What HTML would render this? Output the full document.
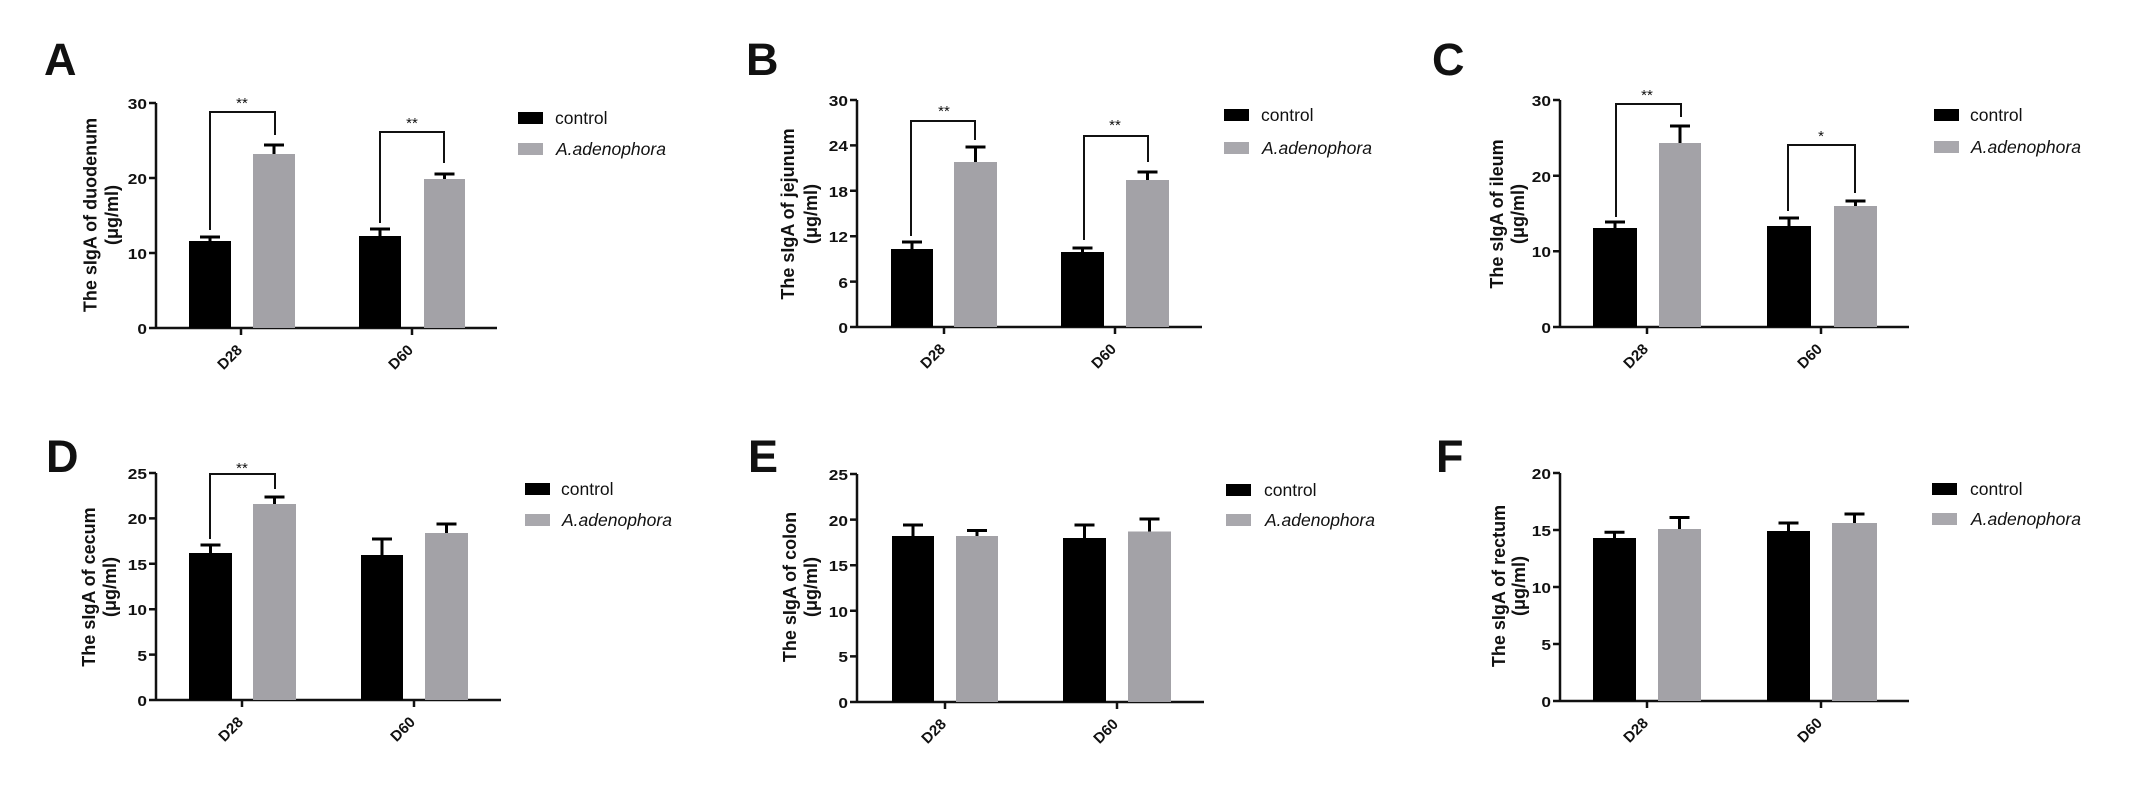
<!DOCTYPE html>
<html><head><meta charset="utf-8"><style>
html,body{margin:0;padding:0;background:#fff;}
svg{display:block;}
text{font-family:"Liberation Sans",Arial,sans-serif;fill:#111;}
.t{font-size:15px;font-weight:bold;}
.x{font-size:15px;font-weight:bold;}
.l{font-size:45px;font-weight:bold;}
.y{font-size:18px;font-weight:bold;}
.g{font-size:17.5px;}
.s{font-size:15px;}
.ax{stroke:#111;stroke-width:2.5;fill:none;}
.br{stroke:#111;stroke-width:2;fill:none;}
.eb{stroke:#000;stroke-width:3;fill:none;}
</style></head><body>
<svg width="2129" height="787" viewBox="0 0 2129 787" xmlns="http://www.w3.org/2000/svg">
<rect width="2129" height="787" fill="#fff"/>

<!-- ===== Panel A ===== -->
<text class="l" x="44" y="75">A</text>
<path class="ax" d="M156,103 V328 H497 M149,103 H156 M149,178 H156 M149,253 H156 M149,328 H156 M241,328 V335 M412,328 V335"/>
<text class="t" text-anchor="end" transform="translate(147,109) scale(1.15,1)">30</text>
<text class="t" text-anchor="end" transform="translate(147,184) scale(1.15,1)">20</text>
<text class="t" text-anchor="end" transform="translate(147,259) scale(1.15,1)">10</text>
<text class="t" text-anchor="end" transform="translate(147,334) scale(1.15,1)">0</text>
<rect x="189" y="241" width="42" height="87" fill="#000"/>
<rect x="253" y="154" width="42" height="174" fill="#a3a2a7"/>
<rect x="359" y="236" width="42" height="92" fill="#000"/>
<rect x="424" y="179" width="41" height="149" fill="#a3a2a7"/>
<path class="eb" d="M210,241 V237 M200,237 H220 M274,154 V145 M264,145 H284 M380,236 V229 M370,229 H390 M444.5,179 V174 M434.5,174 H454.5"/>
<path class="br" d="M210,230 V112 H275 V135 M380,223 V132 H444 V163"/>
<text class="s" text-anchor="middle" x="242" y="108">**</text>
<text class="s" text-anchor="middle" x="412" y="128">**</text>
<text class="y" text-anchor="middle" transform="translate(96.5,215) rotate(-90)">The sIgA of duodenum</text>
<text class="y" text-anchor="middle" transform="translate(118,215) rotate(-90)">(μg/ml)</text>
<text class="x" text-anchor="end" transform="translate(243,351) rotate(-45)">D28</text>
<text class="x" text-anchor="end" transform="translate(414,351) rotate(-45)">D60</text>
<rect x="518" y="112" width="25" height="12" fill="#000"/>
<rect x="518" y="143" width="25" height="12" fill="#a9a8ad"/>
<text class="g" x="555" y="124">control</text>
<text class="g" font-style="italic" x="556" y="155">A.adenophora</text>

<!-- ===== Panel B ===== -->
<text class="l" x="746" y="75">B</text>
<path class="ax" d="M857,100 V327 H1202 M850,100 H857 M850,145.4 H857 M850,190.8 H857 M850,236.2 H857 M850,281.6 H857 M850,327 H857 M944,327 V334 M1115,327 V334"/>
<text class="t" text-anchor="end" transform="translate(848,106) scale(1.15,1)">30</text>
<text class="t" text-anchor="end" transform="translate(848,151) scale(1.15,1)">24</text>
<text class="t" text-anchor="end" transform="translate(848,197) scale(1.15,1)">18</text>
<text class="t" text-anchor="end" transform="translate(848,242) scale(1.15,1)">12</text>
<text class="t" text-anchor="end" transform="translate(848,288) scale(1.15,1)">6</text>
<text class="t" text-anchor="end" transform="translate(848,333) scale(1.15,1)">0</text>
<rect x="891" y="249" width="42" height="78" fill="#000"/>
<rect x="954" y="162" width="43" height="165" fill="#a3a2a7"/>
<rect x="1061" y="252" width="43" height="75" fill="#000"/>
<rect x="1126" y="180" width="43" height="147" fill="#a3a2a7"/>
<path class="eb" d="M912,249 V242 M902,242 H922 M975.5,162 V147 M965.5,147 H985.5 M1082.5,252 V248 M1072.5,248 H1092.5 M1147.5,180 V172 M1137.5,172 H1157.5"/>
<path class="br" d="M911,236 V121 H975 V140 M1084,240 V136 H1148 V162"/>
<text class="s" text-anchor="middle" x="944" y="116">**</text>
<text class="s" text-anchor="middle" x="1115" y="130">**</text>
<text class="y" text-anchor="middle" transform="translate(794,214) rotate(-90)">The sIgA of jejunum</text>
<text class="y" text-anchor="middle" transform="translate(817,214) rotate(-90)">(μg/ml)</text>
<text class="x" text-anchor="end" transform="translate(946,350) rotate(-45)">D28</text>
<text class="x" text-anchor="end" transform="translate(1117,350) rotate(-45)">D60</text>
<rect x="1224" y="109" width="25" height="12" fill="#000"/>
<rect x="1224" y="142" width="25" height="12" fill="#a9a8ad"/>
<text class="g" x="1261" y="121">control</text>
<text class="g" font-style="italic" x="1262" y="154">A.adenophora</text>

<!-- ===== Panel C ===== -->
<text class="l" x="1432" y="75">C</text>
<path class="ax" d="M1560,100 V327 H1909 M1553,100 H1560 M1553,175.7 H1560 M1553,251.3 H1560 M1553,327 H1560 M1647,327 V334 M1821,327 V334"/>
<text class="t" text-anchor="end" transform="translate(1551,106) scale(1.15,1)">30</text>
<text class="t" text-anchor="end" transform="translate(1551,182) scale(1.15,1)">20</text>
<text class="t" text-anchor="end" transform="translate(1551,257) scale(1.15,1)">10</text>
<text class="t" text-anchor="end" transform="translate(1551,333) scale(1.15,1)">0</text>
<rect x="1593" y="228" width="44" height="99" fill="#000"/>
<rect x="1659" y="143" width="42" height="184" fill="#a3a2a7"/>
<rect x="1767" y="226" width="44" height="101" fill="#000"/>
<rect x="1834" y="206" width="43" height="121" fill="#a3a2a7"/>
<path class="eb" d="M1615,228 V222 M1605,222 H1625 M1680,143 V126 M1670,126 H1690 M1789,226 V218 M1779,218 H1799 M1855.5,206 V201 M1845.5,201 H1865.5"/>
<path class="br" d="M1616,217 V104 H1681 V117 M1788,211 V145 H1855 V193"/>
<text class="s" text-anchor="middle" x="1647" y="100">**</text>
<text class="s" text-anchor="middle" x="1821" y="141">*</text>
<text class="y" text-anchor="middle" transform="translate(1503,214) rotate(-90)">The sIgA of ileum</text>
<text class="y" text-anchor="middle" transform="translate(1524,214) rotate(-90)">(μg/ml)</text>
<text class="x" text-anchor="end" transform="translate(1649,350) rotate(-45)">D28</text>
<text class="x" text-anchor="end" transform="translate(1823,350) rotate(-45)">D60</text>
<rect x="1934" y="109" width="25" height="12" fill="#000"/>
<rect x="1934" y="141" width="25" height="12" fill="#a9a8ad"/>
<text class="g" x="1970" y="121">control</text>
<text class="g" font-style="italic" x="1971" y="153">A.adenophora</text>

<!-- ===== Panel D ===== -->
<text class="l" x="46" y="472">D</text>
<path class="ax" d="M156,473 V700 H501 M149,473 H156 M149,518.4 H156 M149,563.8 H156 M149,609.2 H156 M149,654.6 H156 M149,700 H156 M242,700 V707 M414,700 V707"/>
<text class="t" text-anchor="end" transform="translate(147,479) scale(1.15,1)">25</text>
<text class="t" text-anchor="end" transform="translate(147,524) scale(1.15,1)">20</text>
<text class="t" text-anchor="end" transform="translate(147,570) scale(1.15,1)">15</text>
<text class="t" text-anchor="end" transform="translate(147,615) scale(1.15,1)">10</text>
<text class="t" text-anchor="end" transform="translate(147,661) scale(1.15,1)">5</text>
<text class="t" text-anchor="end" transform="translate(147,706) scale(1.15,1)">0</text>
<rect x="189" y="553" width="43" height="147" fill="#000"/>
<rect x="253" y="504" width="43" height="196" fill="#a3a2a7"/>
<rect x="361" y="555" width="42" height="145" fill="#000"/>
<rect x="425" y="533" width="43" height="167" fill="#a3a2a7"/>
<path class="eb" d="M210.5,553 V545 M200.5,545 H220.5 M274.5,504 V497 M264.5,497 H284.5 M382,555 V539 M372,539 H392 M446.5,533 V524 M436.5,524 H456.5"/>
<path class="br" d="M210,539 V474 H275 V489"/>
<text class="s" text-anchor="middle" x="242" y="473">**</text>
<text class="y" text-anchor="middle" transform="translate(95,587) rotate(-90)">The sIgA of cecum</text>
<text class="y" text-anchor="middle" transform="translate(116,587) rotate(-90)">(μg/ml)</text>
<text class="x" text-anchor="end" transform="translate(244,723) rotate(-45)">D28</text>
<text class="x" text-anchor="end" transform="translate(416,723) rotate(-45)">D60</text>
<rect x="525" y="483" width="25" height="12" fill="#000"/>
<rect x="525" y="514" width="25" height="12" fill="#a9a8ad"/>
<text class="g" x="561" y="495">control</text>
<text class="g" font-style="italic" x="562" y="526">A.adenophora</text>

<!-- ===== Panel E ===== -->
<text class="l" x="748" y="472">E</text>
<path class="ax" d="M857,474 V702 H1204 M850,474 H857 M850,519.6 H857 M850,565.2 H857 M850,610.8 H857 M850,656.4 H857 M850,702 H857 M945,702 V709 M1117,702 V709"/>
<text class="t" text-anchor="end" transform="translate(848,480) scale(1.15,1)">25</text>
<text class="t" text-anchor="end" transform="translate(848,526) scale(1.15,1)">20</text>
<text class="t" text-anchor="end" transform="translate(848,571) scale(1.15,1)">15</text>
<text class="t" text-anchor="end" transform="translate(848,617) scale(1.15,1)">10</text>
<text class="t" text-anchor="end" transform="translate(848,662) scale(1.15,1)">5</text>
<text class="t" text-anchor="end" transform="translate(848,708) scale(1.15,1)">0</text>
<rect x="892" y="536" width="42" height="166" fill="#000"/>
<rect x="956" y="536" width="42" height="166" fill="#a3a2a7"/>
<rect x="1063" y="538" width="43" height="164" fill="#000"/>
<rect x="1128" y="531.5" width="43" height="170.5" fill="#a3a2a7"/>
<path class="eb" d="M913,536 V525 M903,525 H923 M977,536 V530.5 M967,530.5 H987 M1084.5,538 V525 M1074.5,525 H1094.5 M1149.5,531.5 V519 M1139.5,519 H1159.5"/>
<text class="y" text-anchor="middle" transform="translate(796,587) rotate(-90)">The sIgA of colon</text>
<text class="y" text-anchor="middle" transform="translate(817,587) rotate(-90)">(μg/ml)</text>
<text class="x" text-anchor="end" transform="translate(947,725) rotate(-45)">D28</text>
<text class="x" text-anchor="end" transform="translate(1119,725) rotate(-45)">D60</text>
<rect x="1226" y="484" width="25" height="12" fill="#000"/>
<rect x="1226" y="514" width="25" height="12" fill="#a9a8ad"/>
<text class="g" x="1264" y="496">control</text>
<text class="g" font-style="italic" x="1265" y="526">A.adenophora</text>

<!-- ===== Panel F ===== -->
<text class="l" x="1436" y="472">F</text>
<path class="ax" d="M1560,473 V701 H1909 M1553,473 H1560 M1553,530 H1560 M1553,587 H1560 M1553,644 H1560 M1553,701 H1560 M1647,701 V708 M1821,701 V708"/>
<text class="t" text-anchor="end" transform="translate(1551,479) scale(1.15,1)">20</text>
<text class="t" text-anchor="end" transform="translate(1551,536) scale(1.15,1)">15</text>
<text class="t" text-anchor="end" transform="translate(1551,593) scale(1.15,1)">10</text>
<text class="t" text-anchor="end" transform="translate(1551,650) scale(1.15,1)">5</text>
<text class="t" text-anchor="end" transform="translate(1551,707) scale(1.15,1)">0</text>
<rect x="1593" y="538" width="43" height="163" fill="#000"/>
<rect x="1658" y="529" width="43" height="172" fill="#a3a2a7"/>
<rect x="1767" y="531" width="43" height="170" fill="#000"/>
<rect x="1832" y="523" width="45" height="178" fill="#a3a2a7"/>
<path class="eb" d="M1614.5,538 V532.3 M1604.5,532.3 H1624.5 M1679.5,529 V517.5 M1669.5,517.5 H1689.5 M1788.5,531 V523 M1778.5,523 H1798.5 M1854.5,523 V514 M1844.5,514 H1864.5"/>
<text class="y" text-anchor="middle" transform="translate(1505,586) rotate(-90)">The sIgA of rectum</text>
<text class="y" text-anchor="middle" transform="translate(1525,586) rotate(-90)">(μg/ml)</text>
<text class="x" text-anchor="end" transform="translate(1649,724) rotate(-45)">D28</text>
<text class="x" text-anchor="end" transform="translate(1823,724) rotate(-45)">D60</text>
<rect x="1932" y="483" width="25" height="12" fill="#000"/>
<rect x="1932" y="513" width="25" height="12" fill="#a9a8ad"/>
<text class="g" x="1970" y="495">control</text>
<text class="g" font-style="italic" x="1971" y="525">A.adenophora</text>
</svg>
</body></html>
